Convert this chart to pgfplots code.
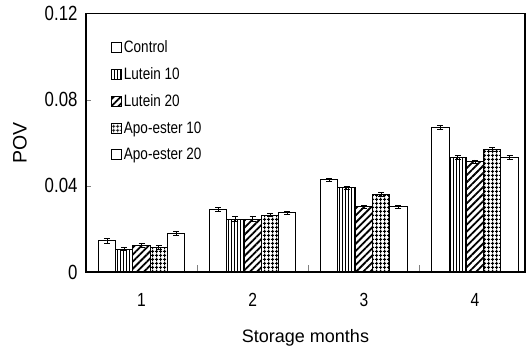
\documentclass[border=0pt]{standalone}
\usepackage{fontspec}
\setmainfont{Liberation Sans}
\newfontfamily\condensed{Liberation Sans}[FakeStretch=0.82]
\usepackage{pgfplots}
\pgfplotsset{compat=1.18}
\usetikzlibrary{patterns,patterns.meta}
\pgfdeclarepattern{
  name=mygrid, type=uncolored,
  bottom left={\pgfpoint{0pt}{0pt}}, top right={\pgfpoint{3.6pt}{3.6pt}},
  tile size={\pgfpoint{3.6pt}{3.6pt}},
  code={\pgfsetlinewidth{0.9pt}
    \pgfpathmoveto{\pgfpoint{0pt}{1.8pt}}\pgfpathlineto{\pgfpoint{3.6pt}{1.8pt}}
    \pgfpathmoveto{\pgfpoint{1.8pt}{0pt}}\pgfpathlineto{\pgfpoint{1.8pt}{3.6pt}}
    \pgfusepath{stroke}}
}
\begin{document}
\begin{tikzpicture}
\begin{axis}[
  scale only axis, width=439pt, height=258.5pt,
  ybar=0pt, bar width=17.3pt,
  xmin=0.5, xmax=4.45, ymin=0, ymax=0.12,
  xtick={1,2,3,4}, xticklabels={1,2,3,4},
  minor xtick={1.5,2.5,3.5},
  major x tick style={draw=none},
  minor tick length=7pt, major tick length=5pt,
  tick align=inside,
  xtick pos=bottom, ytick pos=left,
  ytick={0,0.04,0.08,0.12}, yticklabels={0,0.04,0.08,0.12},
  /pgf/number format/assume math mode=true,
  yticklabel style={font=\condensed\fontsize{20.5}{22}\selectfont, xshift=-5pt},
  xticklabel style={font=\condensed\fontsize{19}{20}\selectfont, yshift=-18pt},
  axis line style={line width=1.2pt},
  xlabel={Storage months}, ylabel={POV},
  xlabel style={font=\fontsize{18}{20}\selectfont, at={([yshift=-66pt]axis description cs:0.5,0)}, anchor=center},
  ylabel style={font=\fontsize{19.5}{22}\selectfont, at={([xshift=-66pt]axis description cs:0,0.5)}, anchor=center},
  legend image code/.code={\draw[#1,line width=0.8pt] (0pt,-5pt) rectangle (10pt,5pt);},
  legend style={at={(0.05,0.91)}, anchor=north west, draw=none, fill=none,
    font=\condensed\fontsize{16.5}{18}\selectfont, row sep=9.5pt},
  legend cell align=left,
  every axis plot/.append style={draw=black, line width=1pt,
    error bars/y dir=both, error bars/y explicit,
    error bars/error bar style={line width=0.8pt},
    error bars/error mark options={rotate=90, mark size=3pt, line width=0.8pt}},
]
\addplot[fill=white] coordinates {(1,0.0145) +- (0,0.0012) (2,0.0292) +- (0,0.0010) (3,0.0428) +- (0,0.0008) (4,0.0672) +- (0,0.0009)};
\addplot[pattern={Lines[angle=90,distance=3pt,line width=0.6pt]}] coordinates {(1,0.0106) +- (0,0.0008) (2,0.0246) +- (0,0.0010) (3,0.0390) +- (0,0.0008) (4,0.0532) +- (0,0.0008)};
\addplot[pattern={Lines[angle=45,distance=5pt,line width=1.8pt]}] coordinates {(1,0.0124) +- (0,0.0008) (2,0.0246) +- (0,0.0010) (3,0.0302) +- (0,0.0008) (4,0.0512) +- (0,0.0008)};
\addplot[pattern=mygrid] coordinates {(1,0.0115) +- (0,0.0008) (2,0.0264) +- (0,0.0008) (3,0.0360) +- (0,0.0008) (4,0.0568) +- (0,0.0009)};
\addplot[fill=white] coordinates {(1,0.0180) +- (0,0.0009) (2,0.0274) +- (0,0.0008) (3,0.0302) +- (0,0.0008) (4,0.0532) +- (0,0.0008)};
\legend{Control,Lutein 10,Lutein 20,Apo-ester 10,Apo-ester 20}
\end{axis}
\pgfresetboundingbox
\path ([shift={(-86pt,-80pt)}]current axis.south west) rectangle ([shift={(3pt,13.5pt)}]current axis.north east);
\end{tikzpicture}
\end{document}
